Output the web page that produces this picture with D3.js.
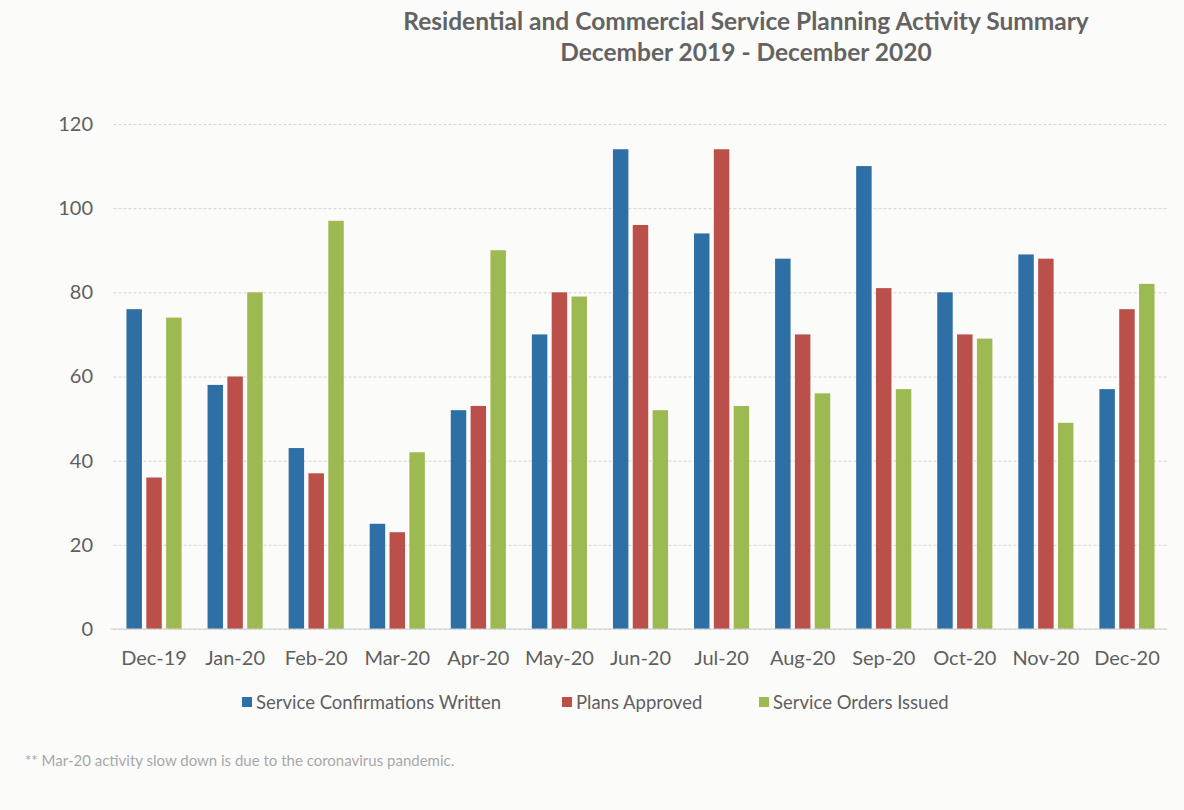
<!DOCTYPE html>
<html>
<head>
<meta charset="utf-8">
<script src="https://cdn.jsdelivr.net/npm/d3@7"></script>
<style>
  body { margin: 0; background: #fbfbfa; }
  svg { display: block; font-family: Lato, "Open Sans", sans-serif; }
</style>
</head>
<body>
<div class="chart"></div>
<script>
// data
var months = ["Dec-19", "Jan-20", "Feb-20", "Mar-20", "Apr-20", "May-20", "Jun-20",
              "Jul-20", "Aug-20", "Sep-20", "Oct-20", "Nov-20", "Dec-20"];
var seriesNames = ["Service Confirmations Written", "Plans Approved", "Service Orders Issued"];
var confirmations = [76, 58, 43, 25, 52, 70, 114, 94, 88, 110, 80, 89, 57];
var plansApproved = [36, 60, 37, 23, 53, 80, 96, 114, 70, 81, 70, 88, 76];
var ordersIssued  = [74, 80, 97, 42, 90, 79, 52, 53, 56, 57, 69, 49, 82];
var yTicks = [0, 20, 40, 60, 80, 100, 120];

var colors = ["#2e6fa6", "#bb4f4a", "#9dba52"];
var seriesValues = [confirmations, plansApproved, ordersIssued];

var svgWidth = 1184;
var svgHeight = 810;

var svg = d3.select(".chart")
  .append("svg")
  .attr("width", svgWidth)
  .attr("height", svgHeight);

// plot area
var plot = { left: 113.5, right: 1167.5, top: 124, bottom: 629 };

var x0 = d3.scaleBand().domain(months).range([plot.left, plot.right])
  .paddingInner(0.32).paddingOuter(0.16);
var x1 = d3.scaleBand().domain(seriesNames).range([0, x0.bandwidth()]).paddingInner(0.22);
var y = d3.scaleLinear().domain([0, 120]).range([plot.bottom, plot.top]);

//gridlines
var grid = svg.append("g")
  .attr("transform", "translate(" + plot.left + ",0)")
  .call(d3.axisLeft(y).tickValues(yTicks).tickSize(-(plot.right - plot.left)).tickFormat(""));
grid.select(".domain").remove();
grid.selectAll("line")
  .attr("stroke", "#d4d4d4")
  .attr("stroke-dasharray", "3,2")
  .attr("stroke-width", 1);

// y labels
var yAxis = svg.append("g")
  .attr("transform", "translate(93,0)")
  .call(d3.axisLeft(y).tickValues(yTicks).tickSize(0).tickPadding(0));
yAxis.select(".domain").remove();
yAxis.selectAll("text")
  .attr("font-size", 20)
  .attr("font-family", "Lato, sans-serif")
  .attr("fill", "#5f5f5f");

// bars
var groups = svg.selectAll(".month")
  .data(months)
  .enter().append("g")
  .attr("class", "month")
  .attr("transform", function(d) { return "translate(" + x0(d) + ",0)"; });

groups.selectAll("rect")
  .data(function(d, i) {
    return seriesNames.map(function(s, j) { return { series: s, value: seriesValues[j][i], idx: j }; });
  })
  .enter().append("rect")
  .attr("x", function(d) { return x1(d.series); })
  .attr("y", function(d) { return y(d.value); })
  .attr("width", x1.bandwidth())
  .attr("height", function(d) { return y(0) - y(d.value); })
  .attr("fill", function(d) { return colors[d.idx]; });

// baseline
svg.append("line")
  .attr("x1", plot.left - 3).attr("x2", plot.right)
  .attr("y1", y(0)).attr("y2", y(0))
  .attr("stroke", "#cfcfcf")
  .attr("stroke-width", 1.2);

// x labels
var xAxis = svg.append("g")
  .attr("transform", "translate(0," + plot.bottom + ")")
  .call(d3.axisBottom(x0).tickSize(0).tickPadding(22));
xAxis.select(".domain").remove();
xAxis.selectAll("text")
  .attr("font-size", 20)
  .attr("font-family", "Lato, sans-serif")
  .attr("fill", "#5f5f5f");

// title
svg.append("text")
  .attr("x", 746).attr("y", 30)
  .attr("text-anchor", "middle")
  .attr("font-size", 24.5)
  .attr("font-weight", "bold")
  .attr("fill", "#636363")
  .text("Residential and Commercial Service Planning Activity Summary");
svg.append("text")
  .attr("x", 746).attr("y", 61)
  .attr("text-anchor", "middle")
  .attr("font-size", 24.5)
  .attr("font-weight", "bold")
  .attr("fill", "#636363")
  .text("December 2019 - December 2020");

// legend
var legendX = [242, 562, 759];
var legend = svg.selectAll(".legend")
  .data(seriesNames)
  .enter().append("g")
  .attr("class", "legend")
  .attr("transform", function(d, i) { return "translate(" + legendX[i] + ",702)"; });
legend.append("rect")
  .attr("x", 0).attr("y", -5)
  .attr("width", 10).attr("height", 10)
  .attr("fill", function(d, i) { return colors[i]; });
legend.append("text")
  .attr("x", 14).attr("y", 6.5)
  .attr("font-size", 18.5)
  .attr("fill", "#5f5f5f")
  .text(function(d) { return d; });

// footnote
svg.append("text")
  .attr("x", 25).attr("y", 766)
  .attr("font-size", 15)
  .attr("fill", "#a8a8a8")
  .text("** Mar-20 activity slow down is due to the coronavirus pandemic.");
</script>
</body>
</html>
